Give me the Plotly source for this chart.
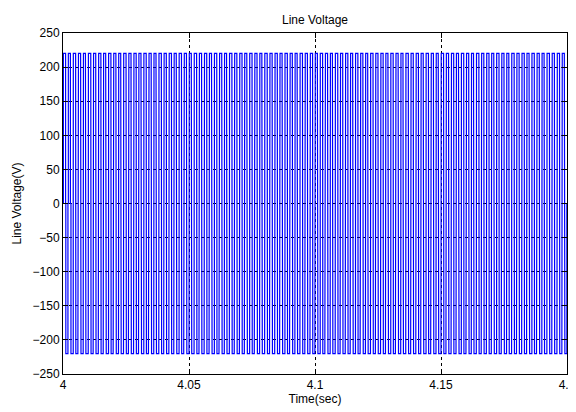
import plotly.graph_objects as go

# Switching instants (ms after t = 4 s)
pos_on_ms = [0.15, 2.12, 4.10, 6.14, 8.11, 10.09, 12.13, 14.15, 16.12, 18.10,
             20.14, 22.11, 24.09, 26.13, 28.15, 30.12, 32.10, 34.14, 36.11, 38.09,
             40.13, 42.15, 44.12, 46.10, 48.14, 50.11, 52.09, 54.13, 56.15, 58.12,
             60.10, 62.14, 64.11, 66.09, 68.13, 70.15, 72.12, 74.10, 76.14, 78.11,
             80.09, 82.13, 84.15, 86.12, 88.10, 90.14, 92.11, 94.09, 96.13, 98.15,
             100.12, 102.10, 104.14, 106.11, 108.09, 110.13, 112.15, 114.12, 116.10, 118.14,
             120.11, 122.09, 124.13, 126.15, 128.12, 130.10, 132.14, 134.11, 136.09, 138.13,
             140.15, 142.12, 144.10, 146.14, 148.11, 150.09, 152.13, 154.15, 156.12, 158.10,
             160.14, 162.11, 164.09, 166.13, 168.15, 170.12, 172.10, 174.14, 176.11, 178.09,
             180.13, 182.15, 184.12, 186.10, 188.14, 190.11, 192.09, 194.13, 196.15, 198.12]
pos_width_ms = [0.88, 0.82, 0.91, 0.85, 0.80, 0.93, 0.86, 0.88, 0.82, 0.91,
                0.85, 0.80, 0.93, 0.86, 0.88, 0.82, 0.91, 0.85, 0.80, 0.93,
                0.86, 0.88, 0.82, 0.91, 0.85, 0.80, 0.93, 0.86, 0.88, 0.82,
                0.91, 0.85, 0.80, 0.93, 0.86, 0.88, 0.82, 0.91, 0.85, 0.80,
                0.93, 0.86, 0.88, 0.82, 0.91, 0.85, 0.80, 0.93, 0.86, 0.88,
                0.82, 0.91, 0.85, 0.80, 0.93, 0.86, 0.88, 0.82, 0.91, 0.85,
                0.80, 0.93, 0.86, 0.88, 0.82, 0.91, 0.85, 0.80, 0.93, 0.86,
                0.88, 0.82, 0.91, 0.85, 0.80, 0.93, 0.86, 0.88, 0.82, 0.91,
                0.85, 0.80, 0.93, 0.86, 0.88, 0.82, 0.91, 0.85, 0.80, 0.93,
                0.86, 0.88, 0.82, 0.91, 0.85, 0.80, 0.93, 0.86, 0.88, 0.82]
neg_on_ms = [1.12, 3.16, 5.10, 7.14, 9.09, 11.13, 13.11, 15.12, 17.16, 19.10,
             21.14, 23.09, 25.13, 27.11, 29.12, 31.16, 33.10, 35.14, 37.09, 39.13,
             41.11, 43.12, 45.16, 47.10, 49.14, 51.09, 53.13, 55.11, 57.12, 59.16,
             61.10, 63.14, 65.09, 67.13, 69.11, 71.12, 73.16, 75.10, 77.14, 79.09,
             81.13, 83.11, 85.12, 87.16, 89.10, 91.14, 93.09, 95.13, 97.11, 99.12,
             101.16, 103.10, 105.14, 107.09, 109.13, 111.11, 113.12, 115.16, 117.10, 119.14,
             121.09, 123.13, 125.11, 127.12, 129.16, 131.10, 133.14, 135.09, 137.13, 139.11,
             141.12, 143.16, 145.10, 147.14, 149.09, 151.13, 153.11, 155.12, 157.16, 159.10,
             161.14, 163.09, 165.13, 167.11, 169.12, 171.16, 173.10, 175.14, 177.09, 179.13,
             181.11, 183.12, 185.16, 187.10, 189.14, 191.09, 193.13, 195.11, 197.12, 199.16]
neg_width_ms = [0.84, 0.90, 0.81, 0.87, 0.92, 0.83, 0.89, 0.84, 0.90, 0.81,
                0.87, 0.92, 0.83, 0.89, 0.84, 0.90, 0.81, 0.87, 0.92, 0.83,
                0.89, 0.84, 0.90, 0.81, 0.87, 0.92, 0.83, 0.89, 0.84, 0.90,
                0.81, 0.87, 0.92, 0.83, 0.89, 0.84, 0.90, 0.81, 0.87, 0.92,
                0.83, 0.89, 0.84, 0.90, 0.81, 0.87, 0.92, 0.83, 0.89, 0.84,
                0.90, 0.81, 0.87, 0.92, 0.83, 0.89, 0.84, 0.90, 0.81, 0.87,
                0.92, 0.83, 0.89, 0.84, 0.90, 0.81, 0.87, 0.92, 0.83, 0.89,
                0.84, 0.90, 0.81, 0.87, 0.92, 0.83, 0.89, 0.84, 0.90, 0.81,
                0.87, 0.92, 0.83, 0.89, 0.84, 0.90, 0.81, 0.87, 0.92, 0.83,
                0.89, 0.84, 0.90, 0.81, 0.87, 0.92, 0.83, 0.89, 0.84, 0.78]
pulse_level = 220.0
t_start = 4.0

x_tick_vals = [4.0, 4.05, 4.1, 4.15, 4.2]
x_tick_text = ["4", "4.05", "4.1", "4.15", "4.2"]
y_tick_vals = [-250, -200, -150, -100, -50, 0, 50, 100, 150, 200, 250]

# Build the three-level waveform from the edges
pulses = [(on, w, pulse_level) for on, w in zip(pos_on_ms, pos_width_ms)] + \
         [(on, w, -pulse_level) for on, w in zip(neg_on_ms, neg_width_ms)]
pulses.sort(key=lambda p: p[0])
xs, ys = [t_start], [0.0]
for on, w, lvl in pulses:
    t_on = t_start + on / 1000.0
    t_off = t_start + (on + w) / 1000.0
    xs += [t_on, t_on, t_off, t_off]
    ys += [0.0, lvl, lvl, 0.0]
xs.append(4.2)
ys.append(0.0)

fig = go.Figure(go.Scatter(x=xs, y=ys, mode="lines",
                           line=dict(color="#0000FF", width=1.2), hoverinfo="skip"))

FONT_FAMILY = "Liberation Sans, Arial, sans-serif"
font = dict(family=FONT_FAMILY, size=12, color="black")
axis_common = dict(showline=True, linecolor="black", linewidth=1, mirror="ticks",
                   ticks="inside", ticklen=5, tickcolor="black",
                   showgrid=True, gridcolor="black", gridwidth=1, griddash="dot",
                   zeroline=False, tickfont=font, automargin=False, layer="above traces")

# the page body adds an 8 px offset, so the figure is sized to fit the window
fig.update_layout(
    width=568, height=404,
    margin=dict(l=55, r=9, t=25, b=38, autoexpand=False),
    paper_bgcolor="white", plot_bgcolor="white",
    showlegend=False,
    font=font,
    title=dict(text="Line Voltage", x=0.5, xref="paper", xanchor="center",
               y=1, yref="paper", yanchor="bottom", pad=dict(b=9), automargin=False,
               font=dict(family=FONT_FAMILY, size=12, color="black")),
    xaxis=dict(range=[4.0, 4.2], tickvals=x_tick_vals, ticktext=x_tick_text,
               title=dict(text="Time(sec)", standoff=0,
                          font=dict(family=FONT_FAMILY, size=12)),
               **axis_common),
    yaxis=dict(range=[-250, 250], tickvals=y_tick_vals,
               title=dict(text="Line Voltage(V)", standoff=8,
                          font=dict(family=FONT_FAMILY, size=12)),
               **axis_common),
)

fig.write_html("out.html")
